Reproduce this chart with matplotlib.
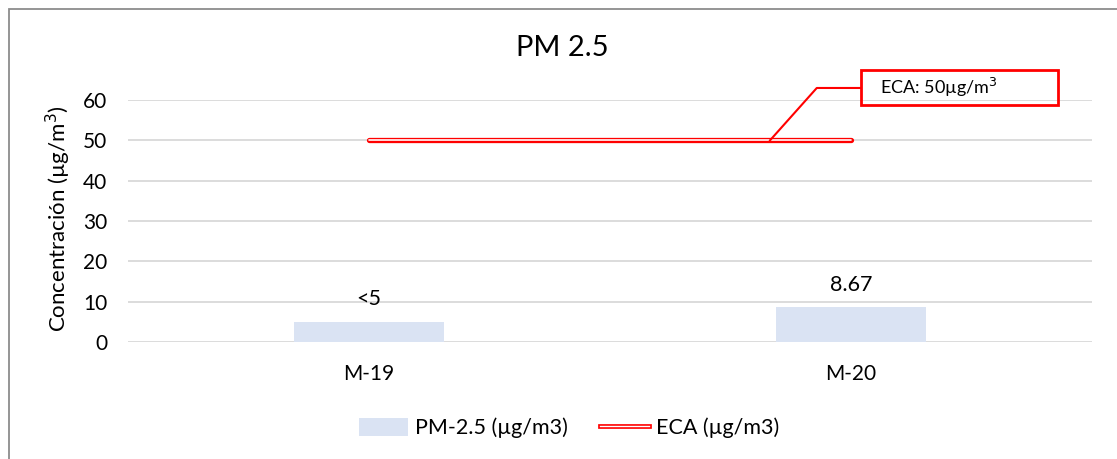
import matplotlib.pyplot as plt
import matplotlib.patheffects as pe
from matplotlib.patches import Rectangle, Patch
from matplotlib.lines import Line2D

# data
categories = ['M-19', 'M-20']
pm25 = [5, 8.67]
pm25_labels = ['<5', '8.67']
eca = [50, 50]
yticks = [0, 10, 20, 30, 40, 50, 60]

bar_color = '#DAE3F3'
red = '#FF0000'
grid_color = '#D9D9D9'

plt.rcParams['font.family'] = ['Lato', 'DejaVu Sans']

W, H = 1117, 459
fig = plt.figure(figsize=(W / 100, H / 100), dpi=100)

# axes placed from pixel positions of the reference
left, right, bottom, top = 128, 1092, 342, 100
ax = fig.add_axes([left / W, 1 - bottom / H, (right - left) / W, (bottom - top) / H])

x = list(range(len(categories)))
ax.bar(x, pm25, width=0.313, color=bar_color, zorder=2)
for xi, v, lab in zip(x, pm25, pm25_labels):
    ax.annotate(lab, (xi, v), xytext=(0, 9), textcoords='offset points',
                ha='center', va='bottom', fontsize=15.5, color='#000000')

# ECA double red line
double = [pe.Stroke(linewidth=3.8, foreground=red), pe.Normal()]
ax.plot(x, eca, color='white', lw=1.2, solid_capstyle='round', zorder=3,
        path_effects=double)

ax.set_xlim(-0.5, 1.5)
ax.set_ylim(0, 60)
ax.set_yticks(yticks)
ax.set_xticks(x)
ax.set_xticklabels(categories)
ax.tick_params(length=0, labelsize=15, pad=15)
ax.tick_params(axis='x', pad=16)
for s in ax.spines.values():
    s.set_visible(False)
ax.grid(axis='y', color=grid_color, lw=1.3)
ax.set_axisbelow(True)

ax.set_ylabel('Concentración (µg/m$^3$)', fontsize=16)
ax.yaxis.set_label_coords(-0.057, 0.51)

fig.text(562 / W, 1 - 48 / H, 'PM 2.5', fontsize=21, ha='center', va='center')

# callout for ECA
ax.plot([0.832, 0.929, 1.02], [50, 62.98, 62.98], color=red, lw=1.5,
        clip_on=False, zorder=4)
ax.add_patch(Rectangle((1.02, 58.8), 0.41, 8.7, fill=False, edgecolor=red,
                       lw=2, clip_on=False, zorder=4))
ax.text(1.06, 63.1, 'ECA: 50µg/m$^3$', fontsize=13, va='center', ha='left',
        clip_on=False)

# legend
handles = [Patch(facecolor=bar_color, edgecolor='none'),
           Line2D([], [], color='white', lw=1.0, path_effects=[
               pe.Stroke(linewidth=3.4, foreground=red), pe.Normal()])]
fig.legend(handles, ['PM-2.5 (µg/m3)', 'ECA (µg/m3)'], loc='center',
           bbox_to_anchor=(569 / W, 1 - 428 / H), ncol=2, frameon=False,
           fontsize=15.5, handlelength=2.3, handleheight=0.9,
           columnspacing=1.5, handletextpad=0.3)

# chart border (left and top visible)
fig.add_artist(Rectangle((9 / W, -0.1), 1.2, 1.1 - 9 / H, fill=False,
                         edgecolor='#8C8C8C', lw=1.3, transform=fig.transFigure))

fig.savefig('out.png', dpi=100)
